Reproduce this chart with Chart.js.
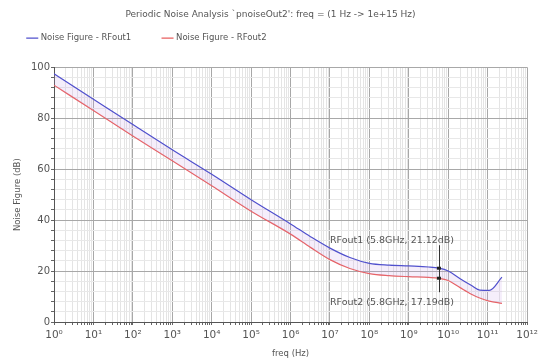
<!DOCTYPE html>
<html>
<head>
<meta charset="utf-8">
<script src="https://cdn.jsdelivr.net/npm/chart.js@4/dist/chart.umd.min.js"></script>
<style>
  html, body { margin: 0; padding: 0; background: #fff; }
</style>
</head>
<body>
<canvas id="nf" width="542" height="361"></canvas>
<script>
// --- DATA --- //
const freqHz = [1, 10, 1e2, 1e3, 1e4, 1e5, 1e6, 3.2e6, 1e7, 3.2e7, 1e8, 3.2e8,
                1e9, 3.2e9, 5.8e9, 1e10, 2e10, 4e10, 6.3e10, 1.1e11, 2.3e11];
const nfRFout1 = [97.5, 87.5, 77.5, 67.6, 58, 48, 38.5, 33.5, 29, 25.3, 23, 22.3,
                  22, 21.6, 21.12, 20, 17, 14.2, 12.5, 12.4, 17.6];
const nfRFout2 = [93, 83, 73, 63.3, 53.5, 43.5, 34.5, 29.3, 24.5, 21, 19, 18.2,
                  17.8, 17.5, 17.19, 16.3, 13.5, 10.8, 9.4, 8.2, 7.3];
const seriesNames = ["Noise Figure - RFout1", "Noise Figure - RFout2"];
const markerFreq = 5.8e9;
const markerLabels = ["RFout1 (5.8GHz, 21.12dB)", "RFout2 (5.8GHz, 17.19dB)"];
const markerValues = [21.12, 17.19];
const xDecades = [0, 1, 2, 3, 4, 5, 6, 7, 8, 9, 10, 11, 12];
const yTicks = [0, 20, 40, 60, 80, 100];

const FONT = "'DejaVu Sans', sans-serif";
const SUP = "⁰¹²³⁴⁵⁶⁷⁸⁹";
const sup = (n) => String(n).split("").map(d => SUP[+d]).join("");

const isDecade = (v) => {
  const e = Math.round(Math.log10(v));
  return Math.abs(v - Math.pow(10, e)) < Math.pow(10, e) * 1e-6;
};

// extra space under the legend
const legendGap = {
  id: "legendGap",
  beforeInit(chart) {
    const fit = chart.legend.fit;
    chart.legend.fit = function () {
      fit.bind(chart.legend)();
      this.height += 15;
    };
  },
};

// --- MARKER PLUGIN --- //
const markerPlugin = {
  id: "markers",
  afterDatasetsDraw(chart) {
    const { ctx, scales: { x, y } } = chart;
    const px = x.getPixelForValue(markerFreq);
    const p1 = y.getPixelForValue(markerValues[0]);
    const p2 = y.getPixelForValue(markerValues[1]);
    ctx.save();
    ctx.strokeStyle = "#333";
    ctx.lineWidth = 1;
    ctx.beginPath();
    ctx.moveTo(Math.round(px) + 0.5, p1 - 23);
    ctx.lineTo(Math.round(px) + 0.5, p2 + 14);
    ctx.stroke();
    ctx.fillStyle = "#222";
    ctx.fillRect(px - 2, p1 - 1.5, 4, 3);
    ctx.fillRect(px - 2, p2 - 1.5, 4, 3);
    ctx.font = "9.5px " + FONT;
    ctx.fillStyle = "#555";
    ctx.textBaseline = "middle";
    ctx.textAlign = "left";
    ctx.fillText(markerLabels[0], px - 109, p1 - 28);
    ctx.fillText(markerLabels[1], px - 109, p2 + 24);
    ctx.restore();
  },
};

// --- CHART --- //
const ctx = document.getElementById("nf");
new Chart(ctx, {
  type: "line",
  data: {
    datasets: [
      {
        label: seriesNames[0],
        data: freqHz.map((f, i) => ({ x: f, y: nfRFout1[i] })),
        borderColor: "rgb(80, 80, 205)",
        backgroundColor: "rgba(200, 160, 235, 0.18)",
        borderWidth: 1.2,
        pointRadius: 0,
        cubicInterpolationMode: "monotone",
        fill: "+1",
      },
      {
        label: seriesNames[1],
        data: freqHz.map((f, i) => ({ x: f, y: nfRFout2[i] })),
        borderColor: "rgb(232, 95, 95)",
        backgroundColor: "rgba(235, 95, 95, 0.15)",
        borderWidth: 1.2,
        pointRadius: 0,
        cubicInterpolationMode: "monotone",
        fill: false,
      },
    ],
  },
  options: {
    responsive: false,
    animation: false,
    layout: { padding: { left: 13, right: 14, top: 0, bottom: 0 } },
    plugins: {
      title: {
        display: true,
        text: "Periodic Noise Analysis `pnoiseOut2': freq = (1 Hz -> 1e+15 Hz)",
        color: "#555",
        font: { family: FONT, size: 9, weight: "normal" },
        padding: { top: 9, bottom: -1 },
      },
      legend: {
        display: true,
        align: "start",
        labels: {
          color: "#555",
          font: { family: FONT, size: 8.5 },
          usePointStyle: true,
          pointStyle: "line",
          boxWidth: 12,
          padding: 15,
          generateLabels(chart) {
            const items = Chart.defaults.plugins.legend.labels.generateLabels(chart);
            items[0].text += "\u2003\u2003";
            return items;
          },
        },
      },
      tooltip: { enabled: false },
    },
    scales: {
      x: {
        type: "logarithmic",
        min: 1,
        max: 1e12,
        afterBuildTicks(scale) {
          const t = [];
          xDecades.forEach((e) => {
            if (e === 12) { t.push({ value: 1e12 }); return; }
            for (let m = 1; m <= 9; m++) t.push({ value: m * Math.pow(10, e) });
          });
          scale.ticks = t;
        },
        afterFit(scale) { scale.height = 39; },
        ticks: {
          autoSkip: false,
          maxRotation: 0,
          color: "#555",
          font: { family: FONT, size: 10.5 },
          padding: 4,
          callback(v) {
            return isDecade(v) ? "10" + sup(Math.round(Math.log10(v))) : "";
          },
        },
        grid: {
          color: (c) => (c.tick && isDecade(c.tick.value) ? "#a8a8a8" : "#e4e4e4"),
          tickColor: "#666",
          tickLength: 3,
        },
        border: { color: "#555", width: 1 },
        title: {
          display: true,
          text: "freq (Hz)",
          color: "#555",
          font: { family: FONT, size: 8.5 },
          padding: { top: 0, bottom: 2 },
        },
      },
      y: {
        type: "linear",
        min: 0,
        max: 100,
        afterBuildTicks(scale) {
          const t = [];
          for (let v = 0; v <= 100; v += 4) t.push({ value: v });
          scale.ticks = t;
        },
        afterFit(scale) { scale.width = 54 - 13; },
        ticks: {
          autoSkip: false,
          color: "#555",
          font: { family: FONT, size: 10 },
          padding: 1,
          callback(v) { return yTicks.includes(v) ? String(v) : ""; },
        },
        grid: {
          color: (c) => (c.tick && yTicks.includes(c.tick.value) ? "#a8a8a8" : "#e8e8e8"),
          tickColor: "#666",
          tickLength: 3,
        },
        border: { color: "#555", width: 1 },
        title: {
          display: true,
          text: "Noise Figure (dB)",
          color: "#555",
          font: { family: FONT, size: 8.5 },
          padding: { top: 0, bottom: 2 },
        },
      },
    },
  },
  plugins: [legendGap, markerPlugin],
});
</script>
</body>
</html>
